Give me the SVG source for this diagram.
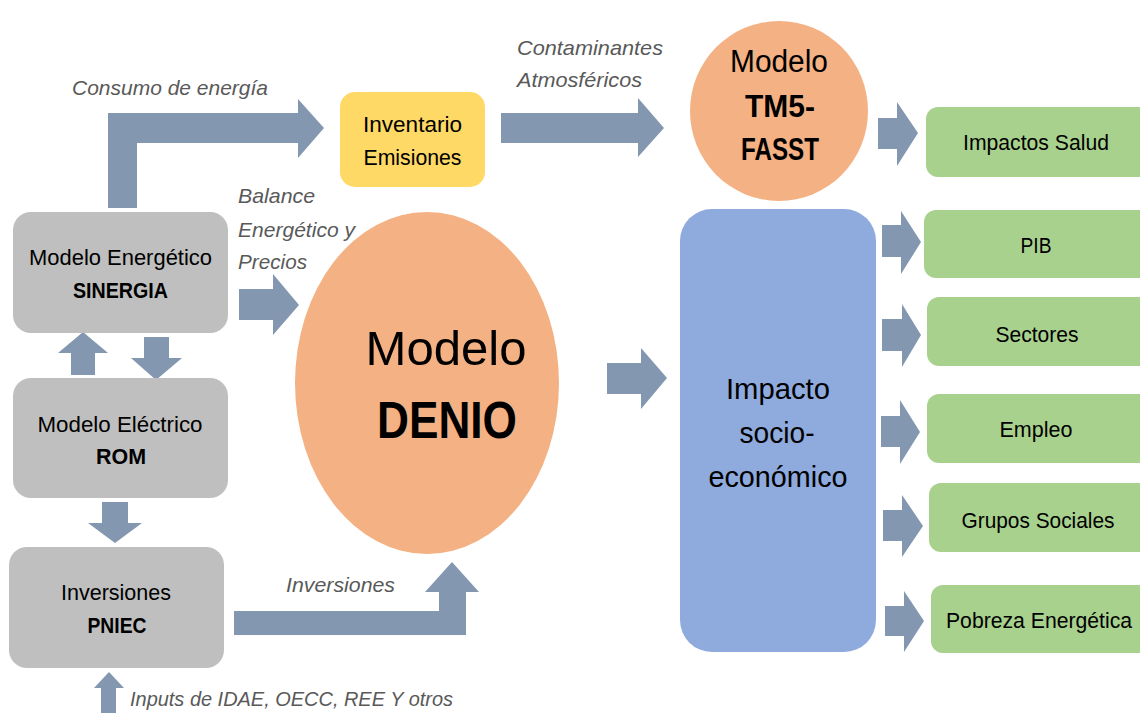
<svg xmlns="http://www.w3.org/2000/svg" width="1140" height="713" viewBox="0 0 1140 713">
<style>
text{font-family:"Liberation Sans",Arial,sans-serif;fill:#000}
.lbl{font-style:italic;fill:#595959;font-size:21px}
.n{font-size:22px;text-anchor:middle}
.b{font-weight:bold}
.arr{fill:#8497B0}
.gray{fill:#BFBFBF}
.green{fill:#A9D18E}
.orange{fill:#F4B183}
</style>
<rect width="1140" height="713" fill="#fff"/>
<g id="connectors">
<polygon class="arr" points="108,208 108,113 298,113 298,99 324,128 298,158 298,143 137,143 137,208"/>
<polygon class="arr" points="501,113 638,113 638,98 664,128 638,157 638,143 501,143"/>
<polygon class="arr" points="239,289 273,289 273,274 299,305 273,335 273,320 239,320"/>
<polygon class="arr" points="71,375 71,353 58,353 83,332 108,353 95,353 95,375"/>
<polygon class="arr" points="144,337 169,337 169,358 182,358 156,380 131,358 144,358"/>
<polygon class="arr" points="102,502 128,502 128,523 142,523 115,543 88,523 102,523"/>
<polygon class="arr" points="234,611 439,611 439,592 425,592 452,562 479,592 466,592 466,635 234,635"/>
<polygon class="arr" points="101,713 101,688 94,688 109,672 124,688 116,688 116,713"/>
<polygon class="arr" points="878,118 897,118 897,102 918,133 897,166 897,149 878,149"/>
<polygon class="arr" points="607,363 641,363 641,348 667,378 641,409 641,394 607,394"/>
<polygon class="arr" points="882,225 901,225 901,211 921,242 901,274 901,257 882,257"/>
<polygon class="arr" points="882,319 902,319 902,304 921,335 902,367 902,351 882,351"/>
<polygon class="arr" points="881,416 900,416 900,400 920,432 900,464 900,447 881,447"/>
<polygon class="arr" points="883,510 902,510 902,495 923,526 902,557 902,541 883,541"/>
<polygon class="arr" points="885,606 904,606 904,591 924,621 904,652 904,636 885,636"/>
<text class="lbl" x="72" y="95" textLength="196" lengthAdjust="spacingAndGlyphs">Consumo de energía</text>
<text class="lbl" x="517" y="55" textLength="146" lengthAdjust="spacingAndGlyphs">Contaminantes</text>
<text class="lbl" x="517" y="87" textLength="125" lengthAdjust="spacingAndGlyphs">Atmosféricos</text>
<text class="lbl" x="238" y="203" textLength="77" lengthAdjust="spacingAndGlyphs">Balance</text>
<text class="lbl" x="238" y="237" textLength="117" lengthAdjust="spacingAndGlyphs">Energético y</text>
<text class="lbl" x="238" y="269" textLength="69" lengthAdjust="spacingAndGlyphs">Precios</text>
<text class="lbl" x="286" y="592" textLength="109" lengthAdjust="spacingAndGlyphs">Inversiones</text>
<text class="lbl" x="130" y="706" textLength="323" lengthAdjust="spacingAndGlyphs">Inputs de IDAE, OECC, REE Y otros</text>
</g>
<g id="sinergia">
<rect class="gray" x="13" y="212" width="215" height="121" rx="18"/>
<text class="n" x="120.5" y="265" textLength="183" lengthAdjust="spacingAndGlyphs">Modelo Energético</text>
<text class="n b" x="120.5" y="298" textLength="95" lengthAdjust="spacingAndGlyphs">SINERGIA</text>
</g>
<g id="rom">
<rect class="gray" x="13" y="378" width="215" height="120" rx="18"/>
<text class="n" x="120" y="432" textLength="165" lengthAdjust="spacingAndGlyphs">Modelo Eléctrico</text>
<text class="n b" x="121" y="464" textLength="50" lengthAdjust="spacingAndGlyphs">ROM</text>
</g>
<g id="pniec">
<rect class="gray" x="9" y="547" width="215" height="121" rx="18"/>
<text class="n" x="116" y="600" textLength="110" lengthAdjust="spacingAndGlyphs">Inversiones</text>
<text class="n b" x="117" y="633" textLength="59" lengthAdjust="spacingAndGlyphs">PNIEC</text>
</g>
<g id="inventario">
<rect x="340" y="92" width="145" height="95" rx="15" fill="#FFD966"/>
<text class="n" x="412.5" y="132" textLength="99" lengthAdjust="spacingAndGlyphs">Inventario</text>
<text class="n" x="412.5" y="165" textLength="98" lengthAdjust="spacingAndGlyphs">Emisiones</text>
</g>
<g id="tm5">
<ellipse class="orange" cx="779" cy="111" rx="89" ry="90"/>
<text class="n" x="779" y="72" style="font-size:31px" textLength="98" lengthAdjust="spacingAndGlyphs">Modelo</text>
<text class="n b" x="780" y="117" style="font-size:31px" textLength="70" lengthAdjust="spacingAndGlyphs">TM5-</text>
<text class="n b" x="780" y="160" style="font-size:31px" textLength="78" lengthAdjust="spacingAndGlyphs">FASST</text>
</g>
<g id="denio">
<ellipse class="orange" cx="427" cy="383" rx="132" ry="171"/>
<text class="n" x="446" y="365" style="font-size:49px" textLength="161" lengthAdjust="spacingAndGlyphs">Modelo</text>
<text class="n b" x="447" y="438" style="font-size:52px" textLength="140" lengthAdjust="spacingAndGlyphs">DENIO</text>
</g>
<g id="impacto">
<rect x="680" y="209" width="196" height="443" rx="32" fill="#8FAADC"/>
<text class="n" x="778" y="399" style="font-size:29px" textLength="104" lengthAdjust="spacingAndGlyphs">Impacto</text>
<text class="n" x="777" y="443" style="font-size:29px" textLength="75" lengthAdjust="spacingAndGlyphs">socio-</text>
<text class="n" x="778" y="487" style="font-size:29px" textLength="139" lengthAdjust="spacingAndGlyphs">económico</text>
</g>
<g id="salud">
<rect class="green" x="926" y="107" width="230" height="70" rx="12"/>
<text class="n" x="1036" y="150" textLength="146" lengthAdjust="spacingAndGlyphs">Impactos Salud</text>
</g>
<g id="pib">
<rect class="green" x="924" y="210" width="230" height="68" rx="12"/>
<text class="n" x="1036" y="253" textLength="31" lengthAdjust="spacingAndGlyphs">PIB</text>
</g>
<g id="sectores">
<rect class="green" x="927" y="297" width="230" height="69" rx="12"/>
<text class="n" x="1037" y="342" textLength="83" lengthAdjust="spacingAndGlyphs">Sectores</text>
</g>
<g id="empleo">
<rect class="green" x="927" y="394" width="230" height="69" rx="12"/>
<text class="n" x="1036" y="437" textLength="73" lengthAdjust="spacingAndGlyphs">Empleo</text>
</g>
<g id="grupos">
<rect class="green" x="929" y="483" width="230" height="69" rx="12"/>
<text class="n" x="1038" y="528" textLength="153" lengthAdjust="spacingAndGlyphs">Grupos Sociales</text>
</g>
<g id="pobreza">
<rect class="green" x="931" y="585" width="230" height="68" rx="12"/>
<text class="n" x="1039" y="628" textLength="186" lengthAdjust="spacingAndGlyphs">Pobreza Energética</text>
</g>
</svg>
